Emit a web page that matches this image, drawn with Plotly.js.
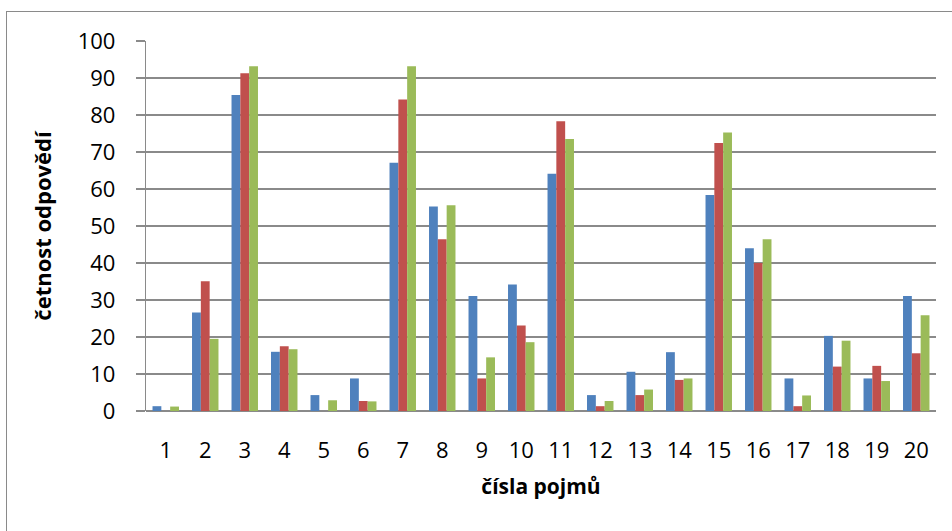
<!DOCTYPE html>
<html>
<head>
<meta charset="utf-8">
<script src="https://cdn.plot.ly/plotly-3.0.1.min.js"></script>
<style>
  html, body { margin: 0; padding: 0; background: #ffffff; overflow: hidden; }
  #wrap { position: relative; width: 952px; height: 531px; }
  #chart { width: 952px; height: 531px; }
  #frame { position: absolute; left: 6px; top: 11px; width: 1000px; height: 600px;
           border: 1.5px solid #8a8a8a; pointer-events: none; box-sizing: border-box; }
</style>
</head>
<body>
<div id="wrap">
  <div id="chart"></div>
  <div id="frame"></div>
</div>
<script>
// Concept numbers (categories on the x axis)
const pojmy = ['1','2','3','4','5','6','7','8','9','10','11','12','13','14','15','16','17','18','19','20'];

// Answer frequencies for the three respondent groups
const skupina1 = [1.3, 26.6, 85.4, 16.0, 4.3, 8.8, 67.1, 55.3, 31.1, 34.2, 64.1, 4.3, 10.6, 15.9, 58.4, 44.0, 8.8, 20.3, 8.8, 31.1];
const skupina2 = [0, 35.1, 91.3, 17.5, 0, 2.7, 84.2, 46.4, 8.8, 23.1, 78.3, 1.3, 4.3, 8.4, 72.4, 40.0, 1.3, 12.0, 12.2, 15.6];
const skupina3 = [1.2, 19.5, 93.2, 16.7, 2.9, 2.6, 93.2, 55.6, 14.5, 18.6, 73.5, 2.7, 5.8, 8.8, 75.3, 46.4, 4.2, 19.0, 8.1, 25.9];

const yTicks = [0, 10, 20, 30, 40, 50, 60, 70, 80, 90, 100];

const barva = ['#4F81BD', '#C0504D', '#9BBB59'];
const serie = [skupina1, skupina2, skupina3];
const jmena = ['skupina 1', 'skupina 2', 'skupina 3'];

const traces = serie.map((vals, i) => ({
  type: 'bar',
  x: pojmy,
  y: vals,
  name: jmena[i],
  marker: { color: barva[i], line: { width: 0 } },
  hoverinfo: 'x+y'
}));

const font = "'Open Sans', 'Noto Sans', sans-serif";
const grid = '#8a8a8a';

const layout = {
  width: 952,
  height: 531,
  margin: { l: 146, r: 16, t: 41, b: 120 },
  paper_bgcolor: '#ffffff',
  plot_bgcolor: '#ffffff',
  showlegend: false,
  barmode: 'group',
  bargap: 0.33,
  bargroupgap: 0,
  font: { family: font, color: '#000000', size: 22 },
  xaxis: {
    type: 'category',
    tickvals: pojmy,
    ticktext: pojmy,
    showgrid: false,
    showline: false,
    ticks: '',
    tickfont: { family: font, size: 22, color: '#000000' },
    ticklabelstandoff: 24,
    title: { text: 'čísla pojmů', font: { family: font, size: 21, color: '#000000', weight: 'bold' }, standoff: 16 },
    fixedrange: true
  },
  yaxis: {
    range: [0, 100],
    tickvals: yTicks,
    ticktext: yTicks.map(String),
    showgrid: true,
    gridcolor: grid,
    gridwidth: 1.2,
    showline: true,
    linecolor: grid,
    linewidth: 1.2,
    ticks: 'outside',
    ticklen: 9,
    tickcolor: grid,
    tickwidth: 1.2,
    zeroline: true,
    zerolinecolor: grid,
    zerolinewidth: 1.5,
    tickfont: { family: font, size: 22, color: '#000000' },
    ticklabelstandoff: 16,
    title: { text: 'četnost odpovědí', font: { family: font, size: 22, color: '#000000', weight: 'bold' }, standoff: 20 },
    fixedrange: true
  }
};

Plotly.newPlot('chart', traces, layout, { displayModeBar: false, staticPlot: true });
</script>
</body>
</html>
